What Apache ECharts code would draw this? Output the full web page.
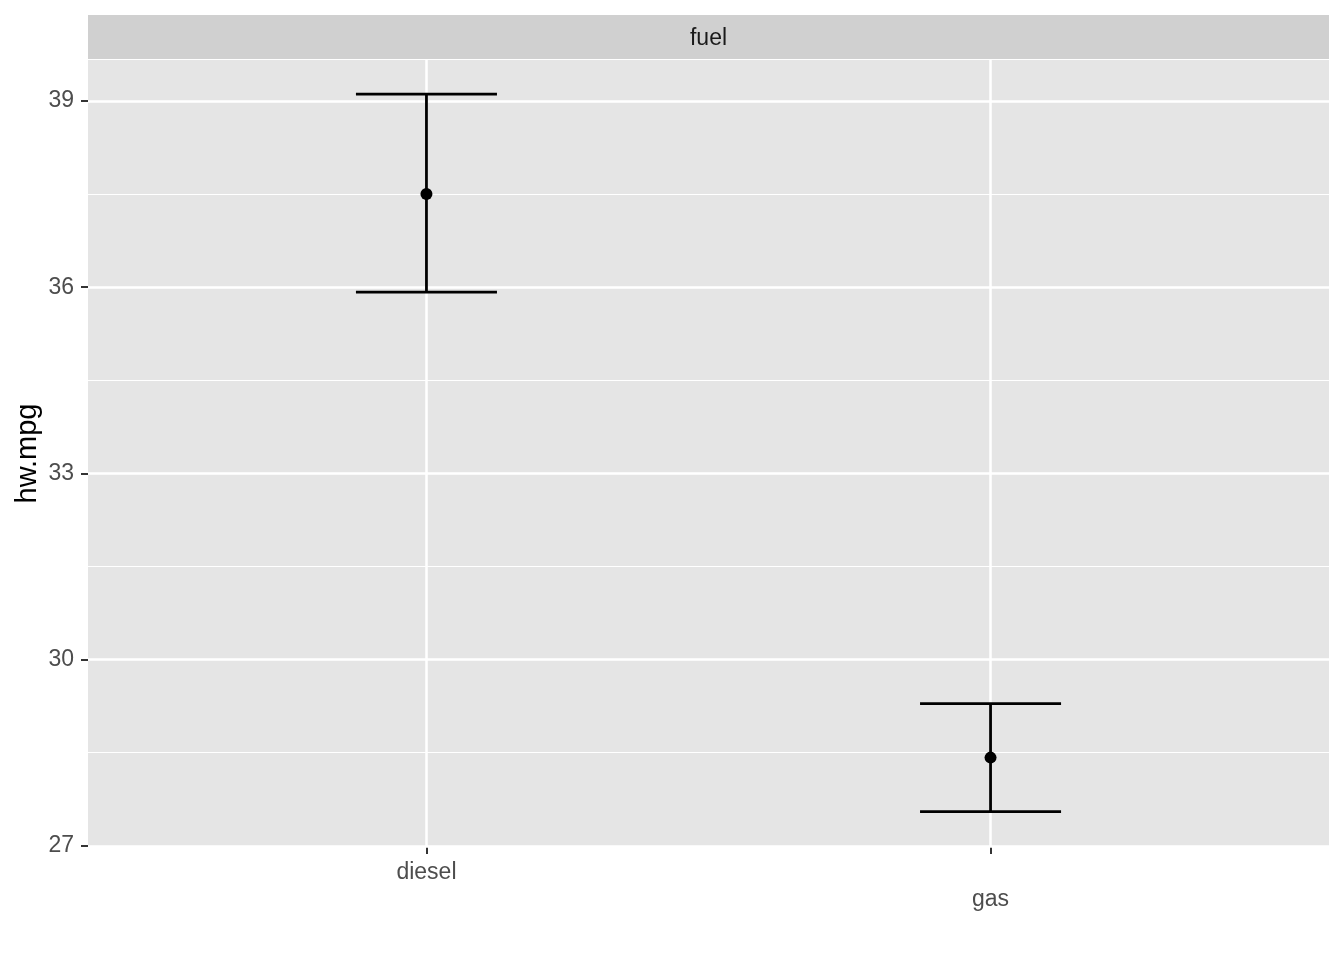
<!DOCTYPE html>
<html>
<head>
<meta charset="utf-8">
<script src="https://cdn.jsdelivr.net/npm/echarts@6/dist/echarts.min.js"></script>
<style>html,body{margin:0;padding:0;background:#fff}#c{width:1344px;height:960px}</style>
</head>
<body>
<div id="c"></div>
<script>
const categories = ['diesel', 'gas'];
const means = [37.5, 28.42];
const lowers = [35.92, 27.55];
const uppers = [39.11, 29.29];
const yTicks = [27, 30, 33, 36, 39];
const yMinorTicks = [28.5, 31.5, 34.5, 37.5];
const facetLabel = 'fuel';
const yTitle = 'hw.mpg';

const FONT = '"Liberation Sans", Arial, Helvetica, sans-serif';
const chart = echarts.init(document.getElementById('c'), null, {renderer: 'canvas'});

const xPos = categories.map((c, i) => i + 1);
const barData = categories.map((c, i) => [xPos[i], lowers[i], uppers[i]]);
const pointData = categories.map((c, i) => [xPos[i], means[i]]);
const capHalf = 0.125;
const Y_MIN = 26.98, Y_MAX = 39.66;

chart.setOption({
  backgroundColor: '#ffffff',
  animation: false,
  grid: {
    left: 88, right: 15, top: 60, bottom: 113,
    outerBoundsMode: 'none', containLabel: false,
    show: true, backgroundColor: '#e5e5e5', borderWidth: 0
  },
  graphic: [
    {type: 'rect', left: 88, top: 15, shape: {width: 1241, height: 44}, style: {fill: '#d0d0d0'}, z: 0},
    {type: 'text', x: 708.5, y: 38.5, style: {text: facetLabel, font: '23px ' + FONT, fill: '#1a1a1a', align: 'center', verticalAlign: 'middle'}}
  ],
  xAxis: {
    type: 'value', min: 0.4, max: 2.6,
    axisLine: {show: false},
    axisTick: {show: true, length: 7, customValues: xPos, lineStyle: {color: '#333333', width: 2}},
    axisLabel: {
      customValues: xPos, margin: 12, color: '#4d4d4d', fontFamily: FONT, fontSize: 23, lineHeight: 27,
      formatter: v => { const i = Math.round(v) - 1; return (i % 2 === 1 ? '\n' : '') + categories[i]; }
    },
    splitLine: {show: true, lineStyle: {color: '#ffffff', width: 2.5}}
  },
  yAxis: [
    {
      type: 'value', min: Y_MIN, max: Y_MAX,
      name: yTitle, nameLocation: 'middle', nameGap: 46, nameRotate: 90, nameMoveOverlap: false,
      nameTextStyle: {color: '#000000', fontFamily: FONT, fontSize: 29},
      axisLine: {show: false},
      axisTick: {show: true, length: 7, customValues: yTicks, lineStyle: {color: '#333333', width: 2}},
      axisLabel: {customValues: yTicks, margin: 14, color: '#4d4d4d', fontFamily: FONT, fontSize: 23},
      splitLine: {show: true, lineStyle: {color: '#ffffff', width: 2.5}},
      z: 2
    },
    {
      type: 'value', min: Y_MIN, max: Y_MAX,
      axisLine: {show: false},
      axisTick: {show: true, length: 0, customValues: yMinorTicks, lineStyle: {width: 0}},
      axisLabel: {show: false, customValues: yMinorTicks},
      splitLine: {show: true, lineStyle: {color: '#ffffff', width: 1.2}},
      z: 1
    }
  ],
  series: [
    {
      type: 'custom',
      data: barData,
      encode: {x: 0, y: [1, 2]},
      renderItem: function (params, api) {
        const x = api.value(0);
        const lo = api.coord([x, api.value(1)]);
        const hi = api.coord([x, api.value(2)]);
        const l = api.coord([x - capHalf, api.value(1)])[0];
        const r = api.coord([x + capHalf, api.value(1)])[0];
        const style = {stroke: '#000000', lineWidth: 2.8};
        return {
          type: 'group',
          children: [
            {type: 'line', shape: {x1: lo[0], y1: lo[1], x2: hi[0], y2: hi[1]}, style: style},
            {type: 'line', shape: {x1: l, y1: lo[1], x2: r, y2: lo[1]}, style: style},
            {type: 'line', shape: {x1: l, y1: hi[1], x2: r, y2: hi[1]}, style: style}
          ]
        };
      },
      z: 3
    },
    {
      type: 'scatter',
      data: pointData,
      symbol: 'circle', symbolSize: 12,
      itemStyle: {color: '#000000', opacity: 1},
      z: 4
    }
  ]
});
</script>
</body>
</html>
